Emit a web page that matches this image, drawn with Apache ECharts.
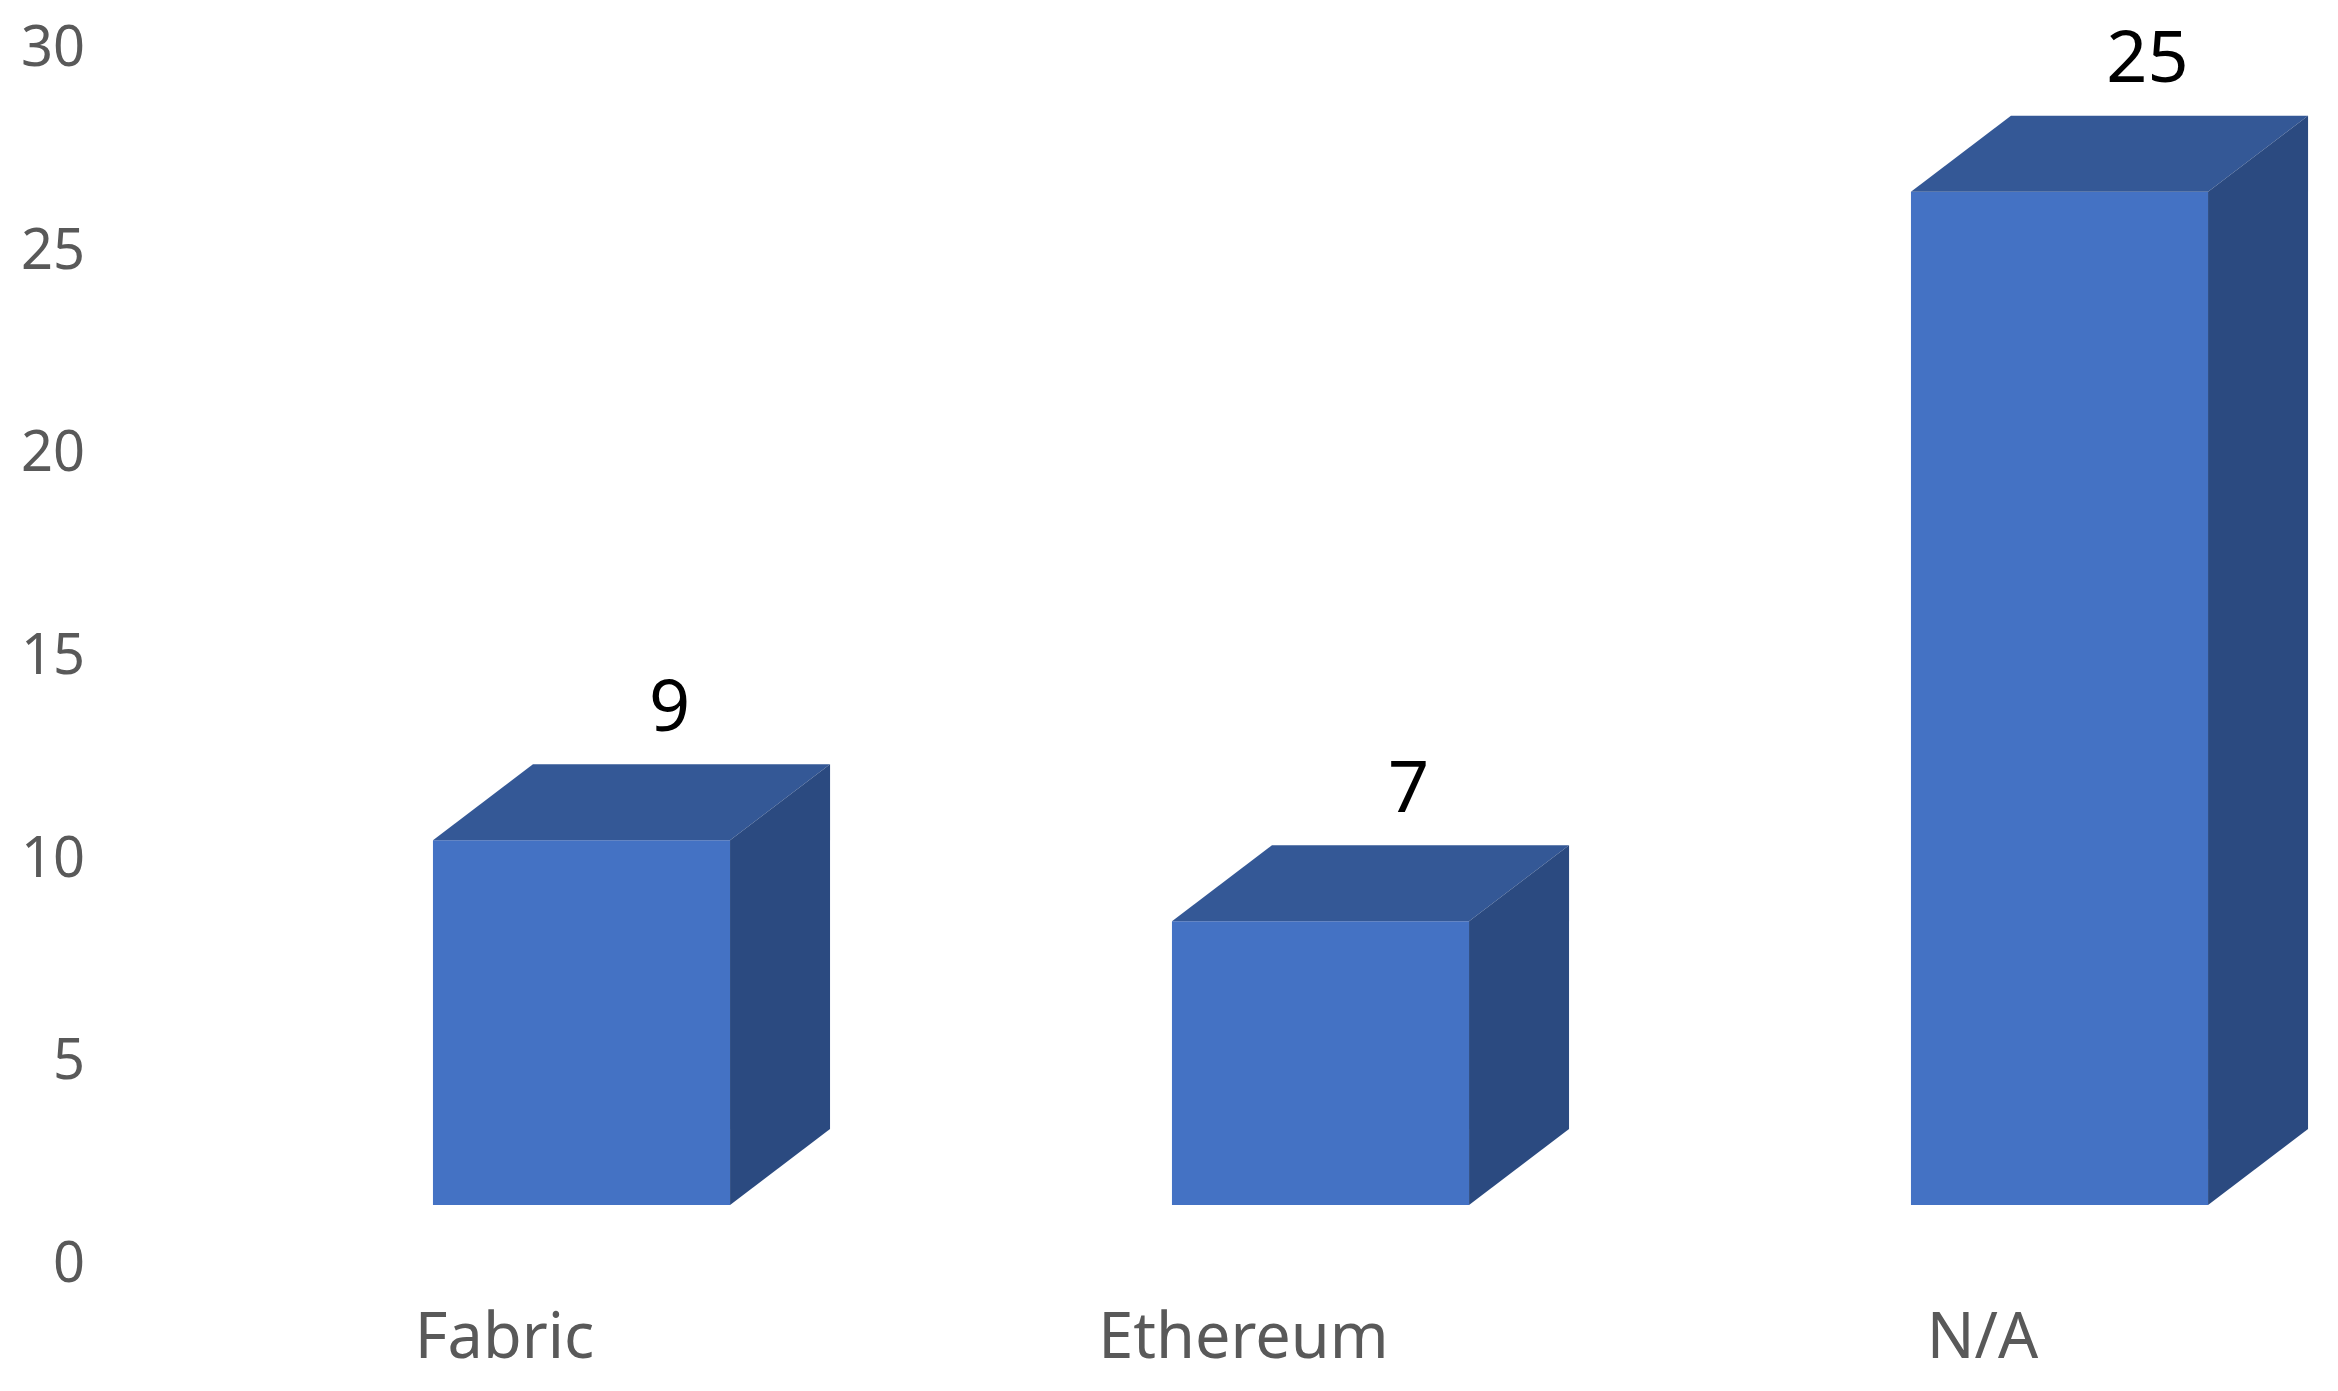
<!DOCTYPE html>
<html>
<head>
<meta charset="utf-8">
<script src="https://cdn.jsdelivr.net/npm/echarts@6/dist/echarts.min.js"></script>
<style>
  html, body { margin: 0; padding: 0; background: #fff; }
  #chart { width: 2338px; height: 1391px; }
</style>
</head>
<body>
<div id="chart"></div>
<script>
var categories = ['Fabric', 'Ethereum', 'N/A'];
var counts = [9, 7, 25];
var yTicks = { min: 0, max: 30, interval: 5 };

// 3D look (pixels)
var SHIFT = 91;   // front face centre vs category centre
var LIFT = 61;    // front face bottom above the axis zero
var DX = 100, DY = 76;  // depth of the box

var chart = echarts.init(document.getElementById('chart'));

var option = {
    backgroundColor: '#ffffff',
    animation: false,
    grid: { left: 121, right: 0, top: 50, height: 1216 },
    xAxis: {
        type: 'category',
        data: categories,
        axisLine: { show: false },
        axisTick: { show: false },
        axisLabel: {
            margin: 43,
            padding: [0, 0, 0, 28],
            fontSize: 63,
            fontFamily: 'Noto Sans',
            color: '#595959'
        }
    },
    yAxis: {
        type: 'value',
        min: yTicks.min,
        max: yTicks.max,
        interval: yTicks.interval,
        axisLine: { show: false },
        axisTick: { show: false },
        splitLine: { show: false },
        axisLabel: {
            margin: 36,
            fontSize: 56,
            fontFamily: 'Noto Sans',
            color: '#595959'
        }
    },
    series: [{
        type: 'custom',
        data: counts.map(function (v, i) { return [i, v]; }),
        renderItem: function (params, api) {
            var base = api.coord([api.value(0), 0]);
            var top = api.coord([api.value(0), api.value(1)]);
            var w = api.size([1, 0])[0] * 0.402;
            var cx = base[0] + SHIFT;
            var x0 = cx - w / 2, x1 = cx + w / 2;
            var yb = base[1] - LIFT, yt = top[1] - LIFT;
            return {
                type: 'group',
                children: [{
                    type: 'rect',
                    shape: { x: x0, y: yt, width: w, height: yb - yt },
                    style: { fill: '#4472C4' }
                }, {
                    type: 'polygon',
                    shape: { points: [[x0, yt], [x1, yt], [x1 + DX, yt - DY], [x0 + DX, yt - DY]] },
                    style: { fill: '#345896' }
                }, {
                    type: 'polygon',
                    shape: { points: [[x1, yt], [x1 + DX, yt - DY], [x1 + DX, yb - DY], [x1, yb]] },
                    style: { fill: '#2B4A80' }
                }, {
                    type: 'text',
                    x: cx + DX - 12,
                    y: yt - DY - 54,
                    style: {
                        text: String(api.value(1)),
                        fontSize: 72,
                        fontFamily: 'Noto Sans',
                        fill: '#000000',
                        align: 'center',
                        verticalAlign: 'middle'
                    }
                }]
            };
        }
    }]
};

chart.setOption(option);
</script>
</body>
</html>
